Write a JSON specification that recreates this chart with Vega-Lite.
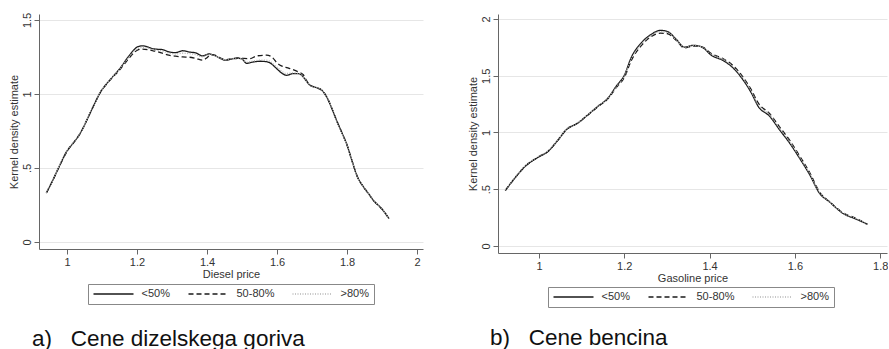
{
  "$schema": "https://vega.github.io/schema/vega-lite/v6.json",
  "padding": {"left": 8, "top": 12, "right": 0, "bottom": 0},
  "bounds": "flush",
  "spacing": 75,
  "datasets": {
    "diesel": [
      {"g": "<50%", "x": 0.941, "y": 0.331}, {"g": "<50%", "x": 0.96, "y": 0.42}, {"g": "<50%", "x": 0.977, "y": 0.507}, {"g": "<50%", "x": 1.0, "y": 0.615}, {"g": "<50%", "x": 1.02, "y": 0.675}, {"g": "<50%", "x": 1.034, "y": 0.72}, {"g": "<50%", "x": 1.048, "y": 0.78}, {"g": "<50%", "x": 1.063, "y": 0.856}, {"g": "<50%", "x": 1.08, "y": 0.94}, {"g": "<50%", "x": 1.096, "y": 1.014}, {"g": "<50%", "x": 1.112, "y": 1.065}, {"g": "<50%", "x": 1.13, "y": 1.115}, {"g": "<50%", "x": 1.145, "y": 1.155}, {"g": "<50%", "x": 1.158, "y": 1.194}, {"g": "<50%", "x": 1.17, "y": 1.235}, {"g": "<50%", "x": 1.182, "y": 1.272}, {"g": "<50%", "x": 1.192, "y": 1.3}, {"g": "<50%", "x": 1.201, "y": 1.318}, {"g": "<50%", "x": 1.215, "y": 1.325}, {"g": "<50%", "x": 1.23, "y": 1.318}, {"g": "<50%", "x": 1.244, "y": 1.306}, {"g": "<50%", "x": 1.258, "y": 1.302}, {"g": "<50%", "x": 1.272, "y": 1.3}, {"g": "<50%", "x": 1.291, "y": 1.284}, {"g": "<50%", "x": 1.31, "y": 1.279}, {"g": "<50%", "x": 1.33, "y": 1.292}, {"g": "<50%", "x": 1.35, "y": 1.283}, {"g": "<50%", "x": 1.368, "y": 1.277}, {"g": "<50%", "x": 1.387, "y": 1.257}, {"g": "<50%", "x": 1.406, "y": 1.27}, {"g": "<50%", "x": 1.42, "y": 1.262}, {"g": "<50%", "x": 1.434, "y": 1.245}, {"g": "<50%", "x": 1.453, "y": 1.228}, {"g": "<50%", "x": 1.475, "y": 1.238}, {"g": "<50%", "x": 1.491, "y": 1.24}, {"g": "<50%", "x": 1.5, "y": 1.236}, {"g": "<50%", "x": 1.513, "y": 1.207}, {"g": "<50%", "x": 1.53, "y": 1.215}, {"g": "<50%", "x": 1.551, "y": 1.221}, {"g": "<50%", "x": 1.57, "y": 1.218}, {"g": "<50%", "x": 1.58, "y": 1.21}, {"g": "<50%", "x": 1.595, "y": 1.18}, {"g": "<50%", "x": 1.604, "y": 1.16}, {"g": "<50%", "x": 1.615, "y": 1.138}, {"g": "<50%", "x": 1.628, "y": 1.126}, {"g": "<50%", "x": 1.645, "y": 1.138}, {"g": "<50%", "x": 1.66, "y": 1.138}, {"g": "<50%", "x": 1.67, "y": 1.127}, {"g": "<50%", "x": 1.683, "y": 1.09}, {"g": "<50%", "x": 1.694, "y": 1.059}, {"g": "<50%", "x": 1.71, "y": 1.045}, {"g": "<50%", "x": 1.728, "y": 1.025}, {"g": "<50%", "x": 1.742, "y": 0.98}, {"g": "<50%", "x": 1.757, "y": 0.9}, {"g": "<50%", "x": 1.77, "y": 0.822}, {"g": "<50%", "x": 1.785, "y": 0.74}, {"g": "<50%", "x": 1.8, "y": 0.655}, {"g": "<50%", "x": 1.814, "y": 0.55}, {"g": "<50%", "x": 1.828, "y": 0.45}, {"g": "<50%", "x": 1.847, "y": 0.372}, {"g": "<50%", "x": 1.862, "y": 0.325}, {"g": "<50%", "x": 1.875, "y": 0.282}, {"g": "<50%", "x": 1.899, "y": 0.225}, {"g": "<50%", "x": 1.92, "y": 0.158},

      {"g": "50-80%", "x": 0.941, "y": 0.331}, {"g": "50-80%", "x": 0.96, "y": 0.42}, {"g": "50-80%", "x": 0.977, "y": 0.505}, {"g": "50-80%", "x": 1.0, "y": 0.612}, {"g": "50-80%", "x": 1.02, "y": 0.675}, {"g": "50-80%", "x": 1.034, "y": 0.72}, {"g": "50-80%", "x": 1.048, "y": 0.78}, {"g": "50-80%", "x": 1.063, "y": 0.856}, {"g": "50-80%", "x": 1.08, "y": 0.94}, {"g": "50-80%", "x": 1.096, "y": 1.014}, {"g": "50-80%", "x": 1.112, "y": 1.065}, {"g": "50-80%", "x": 1.13, "y": 1.112}, {"g": "50-80%", "x": 1.145, "y": 1.148}, {"g": "50-80%", "x": 1.158, "y": 1.185}, {"g": "50-80%", "x": 1.17, "y": 1.22}, {"g": "50-80%", "x": 1.182, "y": 1.255}, {"g": "50-80%", "x": 1.192, "y": 1.28}, {"g": "50-80%", "x": 1.201, "y": 1.295}, {"g": "50-80%", "x": 1.215, "y": 1.303}, {"g": "50-80%", "x": 1.23, "y": 1.3}, {"g": "50-80%", "x": 1.244, "y": 1.293}, {"g": "50-80%", "x": 1.258, "y": 1.285}, {"g": "50-80%", "x": 1.272, "y": 1.275}, {"g": "50-80%", "x": 1.291, "y": 1.262}, {"g": "50-80%", "x": 1.31, "y": 1.255}, {"g": "50-80%", "x": 1.33, "y": 1.25}, {"g": "50-80%", "x": 1.35, "y": 1.248}, {"g": "50-80%", "x": 1.368, "y": 1.24}, {"g": "50-80%", "x": 1.387, "y": 1.228}, {"g": "50-80%", "x": 1.4, "y": 1.245}, {"g": "50-80%", "x": 1.41, "y": 1.265}, {"g": "50-80%", "x": 1.42, "y": 1.264}, {"g": "50-80%", "x": 1.434, "y": 1.248}, {"g": "50-80%", "x": 1.453, "y": 1.232}, {"g": "50-80%", "x": 1.475, "y": 1.24}, {"g": "50-80%", "x": 1.491, "y": 1.245}, {"g": "50-80%", "x": 1.505, "y": 1.24}, {"g": "50-80%", "x": 1.523, "y": 1.239}, {"g": "50-80%", "x": 1.542, "y": 1.257}, {"g": "50-80%", "x": 1.57, "y": 1.262}, {"g": "50-80%", "x": 1.585, "y": 1.25}, {"g": "50-80%", "x": 1.6, "y": 1.21}, {"g": "50-80%", "x": 1.609, "y": 1.194}, {"g": "50-80%", "x": 1.625, "y": 1.18}, {"g": "50-80%", "x": 1.637, "y": 1.171}, {"g": "50-80%", "x": 1.661, "y": 1.149}, {"g": "50-80%", "x": 1.675, "y": 1.13}, {"g": "50-80%", "x": 1.683, "y": 1.095}, {"g": "50-80%", "x": 1.694, "y": 1.06}, {"g": "50-80%", "x": 1.71, "y": 1.045}, {"g": "50-80%", "x": 1.728, "y": 1.025}, {"g": "50-80%", "x": 1.742, "y": 0.98}, {"g": "50-80%", "x": 1.757, "y": 0.9}, {"g": "50-80%", "x": 1.77, "y": 0.822}, {"g": "50-80%", "x": 1.785, "y": 0.74}, {"g": "50-80%", "x": 1.8, "y": 0.655}, {"g": "50-80%", "x": 1.814, "y": 0.55}, {"g": "50-80%", "x": 1.828, "y": 0.45}, {"g": "50-80%", "x": 1.847, "y": 0.372}, {"g": "50-80%", "x": 1.862, "y": 0.325}, {"g": "50-80%", "x": 1.875, "y": 0.282}, {"g": "50-80%", "x": 1.899, "y": 0.225}, {"g": "50-80%", "x": 1.92, "y": 0.158},

      {"g": ">80%", "x": 0.941, "y": 0.333}, {"g": ">80%", "x": 0.96, "y": 0.423}, {"g": ">80%", "x": 0.977, "y": 0.51}, {"g": ">80%", "x": 1.0, "y": 0.618}, {"g": ">80%", "x": 1.02, "y": 0.678}, {"g": ">80%", "x": 1.034, "y": 0.722}, {"g": ">80%", "x": 1.048, "y": 0.782}, {"g": ">80%", "x": 1.063, "y": 0.858}, {"g": ">80%", "x": 1.08, "y": 0.942}, {"g": ">80%", "x": 1.096, "y": 1.016}, {"g": ">80%", "x": 1.112, "y": 1.067}, {"g": ">80%", "x": 1.13, "y": 1.116}, {"g": ">80%", "x": 1.145, "y": 1.152}, {"g": ">80%", "x": 1.158, "y": 1.19}, {"g": ">80%", "x": 1.17, "y": 1.228}, {"g": ">80%", "x": 1.182, "y": 1.264}, {"g": ">80%", "x": 1.192, "y": 1.29}, {"g": ">80%", "x": 1.201, "y": 1.306}, {"g": ">80%", "x": 1.215, "y": 1.313}, {"g": ">80%", "x": 1.23, "y": 1.31}, {"g": ">80%", "x": 1.244, "y": 1.3}, {"g": ">80%", "x": 1.258, "y": 1.294}, {"g": ">80%", "x": 1.272, "y": 1.29}, {"g": ">80%", "x": 1.291, "y": 1.276}, {"g": ">80%", "x": 1.31, "y": 1.27}, {"g": ">80%", "x": 1.33, "y": 1.275}, {"g": ">80%", "x": 1.35, "y": 1.272}, {"g": ">80%", "x": 1.368, "y": 1.265}, {"g": ">80%", "x": 1.387, "y": 1.25}, {"g": ">80%", "x": 1.406, "y": 1.266}, {"g": ">80%", "x": 1.42, "y": 1.262}, {"g": ">80%", "x": 1.434, "y": 1.246}, {"g": ">80%", "x": 1.453, "y": 1.232}, {"g": ">80%", "x": 1.475, "y": 1.24}, {"g": ">80%", "x": 1.491, "y": 1.242}, {"g": ">80%", "x": 1.5, "y": 1.238}, {"g": ">80%", "x": 1.513, "y": 1.215}, {"g": ">80%", "x": 1.53, "y": 1.222}, {"g": ">80%", "x": 1.551, "y": 1.228}, {"g": ">80%", "x": 1.57, "y": 1.228}, {"g": ">80%", "x": 1.58, "y": 1.22}, {"g": ">80%", "x": 1.595, "y": 1.19}, {"g": ">80%", "x": 1.604, "y": 1.172}, {"g": ">80%", "x": 1.615, "y": 1.15}, {"g": ">80%", "x": 1.628, "y": 1.138}, {"g": ">80%", "x": 1.645, "y": 1.142}, {"g": ">80%", "x": 1.66, "y": 1.14}, {"g": ">80%", "x": 1.67, "y": 1.128}, {"g": ">80%", "x": 1.683, "y": 1.09}, {"g": ">80%", "x": 1.694, "y": 1.06}, {"g": ">80%", "x": 1.71, "y": 1.045}, {"g": ">80%", "x": 1.728, "y": 1.025}, {"g": ">80%", "x": 1.742, "y": 0.98}, {"g": ">80%", "x": 1.757, "y": 0.9}, {"g": ">80%", "x": 1.77, "y": 0.822}, {"g": ">80%", "x": 1.785, "y": 0.74}, {"g": ">80%", "x": 1.8, "y": 0.655}, {"g": ">80%", "x": 1.814, "y": 0.55}, {"g": ">80%", "x": 1.828, "y": 0.45}, {"g": ">80%", "x": 1.847, "y": 0.372}, {"g": ">80%", "x": 1.862, "y": 0.325}, {"g": ">80%", "x": 1.875, "y": 0.282}, {"g": ">80%", "x": 1.899, "y": 0.225}, {"g": ">80%", "x": 1.92, "y": 0.158}
    ],
    "gasoline": [
      {"g": "<50%", "x": 0.921, "y": 0.487}, {"g": "<50%", "x": 0.943, "y": 0.596}, {"g": "<50%", "x": 0.967, "y": 0.699}, {"g": "<50%", "x": 0.998, "y": 0.782}, {"g": "<50%", "x": 1.021, "y": 0.832}, {"g": "<50%", "x": 1.045, "y": 0.935}, {"g": "<50%", "x": 1.064, "y": 1.024}, {"g": "<50%", "x": 1.091, "y": 1.083}, {"g": "<50%", "x": 1.115, "y": 1.157}, {"g": "<50%", "x": 1.138, "y": 1.23}, {"g": "<50%", "x": 1.162, "y": 1.304}, {"g": "<50%", "x": 1.181, "y": 1.407}, {"g": "<50%", "x": 1.201, "y": 1.51}, {"g": "<50%", "x": 1.216, "y": 1.658}, {"g": "<50%", "x": 1.24, "y": 1.79}, {"g": "<50%", "x": 1.263, "y": 1.864}, {"g": "<50%", "x": 1.285, "y": 1.9}, {"g": "<50%", "x": 1.302, "y": 1.888}, {"g": "<50%", "x": 1.322, "y": 1.82}, {"g": "<50%", "x": 1.341, "y": 1.752}, {"g": "<50%", "x": 1.361, "y": 1.767}, {"g": "<50%", "x": 1.372, "y": 1.765}, {"g": "<50%", "x": 1.385, "y": 1.746}, {"g": "<50%", "x": 1.404, "y": 1.681}, {"g": "<50%", "x": 1.432, "y": 1.634}, {"g": "<50%", "x": 1.455, "y": 1.569}, {"g": "<50%", "x": 1.478, "y": 1.466}, {"g": "<50%", "x": 1.498, "y": 1.348}, {"g": "<50%", "x": 1.514, "y": 1.23}, {"g": "<50%", "x": 1.541, "y": 1.142}, {"g": "<50%", "x": 1.564, "y": 1.024}, {"g": "<50%", "x": 1.588, "y": 0.905}, {"g": "<50%", "x": 1.611, "y": 0.773}, {"g": "<50%", "x": 1.635, "y": 0.626}, {"g": "<50%", "x": 1.658, "y": 0.463}, {"g": "<50%", "x": 1.681, "y": 0.389}, {"g": "<50%", "x": 1.713, "y": 0.286}, {"g": "<50%", "x": 1.744, "y": 0.236}, {"g": "<50%", "x": 1.77, "y": 0.192},

      {"g": "50-80%", "x": 0.921, "y": 0.49}, {"g": "50-80%", "x": 0.943, "y": 0.596}, {"g": "50-80%", "x": 0.967, "y": 0.699}, {"g": "50-80%", "x": 0.998, "y": 0.782}, {"g": "50-80%", "x": 1.021, "y": 0.832}, {"g": "50-80%", "x": 1.045, "y": 0.935}, {"g": "50-80%", "x": 1.064, "y": 1.024}, {"g": "50-80%", "x": 1.091, "y": 1.083}, {"g": "50-80%", "x": 1.115, "y": 1.155}, {"g": "50-80%", "x": 1.138, "y": 1.226}, {"g": "50-80%", "x": 1.162, "y": 1.298}, {"g": "50-80%", "x": 1.181, "y": 1.395}, {"g": "50-80%", "x": 1.201, "y": 1.49}, {"g": "50-80%", "x": 1.216, "y": 1.63}, {"g": "50-80%", "x": 1.24, "y": 1.765}, {"g": "50-80%", "x": 1.263, "y": 1.845}, {"g": "50-80%", "x": 1.285, "y": 1.875}, {"g": "50-80%", "x": 1.302, "y": 1.87}, {"g": "50-80%", "x": 1.322, "y": 1.81}, {"g": "50-80%", "x": 1.341, "y": 1.745}, {"g": "50-80%", "x": 1.361, "y": 1.762}, {"g": "50-80%", "x": 1.372, "y": 1.762}, {"g": "50-80%", "x": 1.385, "y": 1.75}, {"g": "50-80%", "x": 1.404, "y": 1.695}, {"g": "50-80%", "x": 1.432, "y": 1.65}, {"g": "50-80%", "x": 1.455, "y": 1.59}, {"g": "50-80%", "x": 1.478, "y": 1.49}, {"g": "50-80%", "x": 1.498, "y": 1.375}, {"g": "50-80%", "x": 1.514, "y": 1.26}, {"g": "50-80%", "x": 1.541, "y": 1.165}, {"g": "50-80%", "x": 1.564, "y": 1.05}, {"g": "50-80%", "x": 1.588, "y": 0.93}, {"g": "50-80%", "x": 1.611, "y": 0.795}, {"g": "50-80%", "x": 1.635, "y": 0.645}, {"g": "50-80%", "x": 1.658, "y": 0.475}, {"g": "50-80%", "x": 1.681, "y": 0.39}, {"g": "50-80%", "x": 1.713, "y": 0.292}, {"g": "50-80%", "x": 1.744, "y": 0.242}, {"g": "50-80%", "x": 1.77, "y": 0.19},

      {"g": ">80%", "x": 0.921, "y": 0.492}, {"g": ">80%", "x": 0.943, "y": 0.6}, {"g": ">80%", "x": 0.967, "y": 0.705}, {"g": ">80%", "x": 0.998, "y": 0.788}, {"g": ">80%", "x": 1.021, "y": 0.838}, {"g": ">80%", "x": 1.045, "y": 0.94}, {"g": ">80%", "x": 1.064, "y": 1.028}, {"g": ">80%", "x": 1.091, "y": 1.087}, {"g": ">80%", "x": 1.115, "y": 1.16}, {"g": ">80%", "x": 1.138, "y": 1.232}, {"g": ">80%", "x": 1.162, "y": 1.302}, {"g": ">80%", "x": 1.181, "y": 1.4}, {"g": ">80%", "x": 1.201, "y": 1.5}, {"g": ">80%", "x": 1.216, "y": 1.645}, {"g": ">80%", "x": 1.24, "y": 1.778}, {"g": ">80%", "x": 1.263, "y": 1.855}, {"g": ">80%", "x": 1.285, "y": 1.888}, {"g": ">80%", "x": 1.302, "y": 1.88}, {"g": ">80%", "x": 1.322, "y": 1.815}, {"g": ">80%", "x": 1.341, "y": 1.75}, {"g": ">80%", "x": 1.361, "y": 1.765}, {"g": ">80%", "x": 1.372, "y": 1.764}, {"g": ">80%", "x": 1.385, "y": 1.748}, {"g": ">80%", "x": 1.404, "y": 1.69}, {"g": ">80%", "x": 1.432, "y": 1.643}, {"g": ">80%", "x": 1.455, "y": 1.58}, {"g": ">80%", "x": 1.478, "y": 1.48}, {"g": ">80%", "x": 1.498, "y": 1.362}, {"g": ">80%", "x": 1.514, "y": 1.245}, {"g": ">80%", "x": 1.541, "y": 1.155}, {"g": ">80%", "x": 1.564, "y": 1.038}, {"g": ">80%", "x": 1.588, "y": 0.918}, {"g": ">80%", "x": 1.611, "y": 0.785}, {"g": ">80%", "x": 1.635, "y": 0.636}, {"g": ">80%", "x": 1.658, "y": 0.47}, {"g": ">80%", "x": 1.681, "y": 0.39}, {"g": ">80%", "x": 1.713, "y": 0.29}, {"g": ">80%", "x": 1.744, "y": 0.24}, {"g": ">80%", "x": 1.77, "y": 0.19}
    ]
  },
  "hconcat": [
    {
      "width": 384,
      "height": 235,
      "data": {"name": "diesel"},
      "title": {"text": "a)\u00a0\u00a0 Cene dizelskega goriva", "orient": "bottom", "anchor": "start", "frame": "group", "dx": -7, "offset": 23, "baseline": "top"},
      "mark": {"type": "line", "interpolate": "monotone", "strokeWidth": 1.3, "clip": true},
      "encoding": {
        "x": {"field": "x", "type": "quantitative", "title": "Diesel price",
              "scale": {"domain": [0.92, 2.017], "nice": false, "zero": false},
              "axis": {"values": [1, 1.2, 1.4, 1.6, 1.8, 2], "format": "~g"}},
        "y": {"field": "y", "type": "quantitative", "title": "Kernel density estimate",
              "scale": {"domain": [-0.047, 1.54], "nice": false, "zero": false},
              "axis": {"values": [0, 0.5, 1, 1.5], "labelExpr": "datum.value == 0.5 ? '.5' : format(datum.value, '~g')"}},
        "color": {"field": "g", "type": "nominal", "sort": ["<50%", "50-80%", ">80%"],
                  "scale": {"domain": ["<50%", "50-80%", ">80%"], "range": ["#1a1a1a", "#1a1a1a", "#b5b5b5"]},
                  "legend": {"legendX": 49, "legendY": 270}},
        "strokeDash": {"field": "g", "type": "nominal", "sort": ["<50%", "50-80%", ">80%"],
                  "scale": {"domain": ["<50%", "50-80%", ">80%"], "range": [[1, 0], [5, 3], [1, 1.5]]},
                  "legend": {"legendX": 49, "legendY": 270}}
      }
    },
    {
      "width": 389,
      "height": 239,
      "data": {"name": "gasoline"},
      "title": {"text": "b)\u00a0\u00a0 Cene bencina", "orient": "bottom", "anchor": "start", "frame": "group", "dx": -8, "offset": 19, "baseline": "top"},
      "mark": {"type": "line", "interpolate": "monotone", "strokeWidth": 1.3, "clip": true},
      "encoding": {
        "x": {"field": "x", "type": "quantitative", "title": "Gasoline price",
              "scale": {"domain": [0.904, 1.816], "nice": false, "zero": false},
              "axis": {"values": [1, 1.2, 1.4, 1.6, 1.8], "format": "~g"}},
        "y": {"field": "y", "type": "quantitative", "title": "Kernel density estimate",
              "scale": {"domain": [-0.062, 2.044], "nice": false, "zero": false},
              "axis": {"values": [0, 0.5, 1, 1.5, 2], "labelExpr": "datum.value == 0.5 ? '.5' : format(datum.value, '~g')"}},
        "color": {"field": "g", "type": "nominal", "sort": ["<50%", "50-80%", ">80%"],
                  "scale": {"domain": ["<50%", "50-80%", ">80%"], "range": ["#1a1a1a", "#1a1a1a", "#b5b5b5"]},
                  "legend": {"legendX": 50, "legendY": 273}},
        "strokeDash": {"field": "g", "type": "nominal", "sort": ["<50%", "50-80%", ">80%"],
                  "scale": {"domain": ["<50%", "50-80%", ">80%"], "range": [[1, 0], [5, 3], [1, 1.5]]},
                  "legend": {"legendX": 50, "legendY": 273}}
      }
    }
  ],
  "resolve": {"scale": {"color": "independent", "strokeDash": "independent", "x": "independent", "y": "independent"}, "legend": {"color": "independent", "strokeDash": "independent"}},
  "config": {
    "font": "Liberation Sans",
    "view": {"stroke": null},
    "title": {"fontSize": 22.5, "fontWeight": "normal", "color": "#111", "font": "Liberation Sans"},
    "axis": {"labelFontSize": 11, "titleFontSize": 11, "titleFontWeight": "normal", "labelColor": "#333", "titleColor": "#333", "domainColor": "#666", "tickColor": "#666", "tickSize": 5, "gridColor": "#e6e6e6", "labelPadding": 2, "titlePadding": 1, "labelFont": "Liberation Sans", "titleFont": "Liberation Sans"},
    "axisX": {"grid": false, "labelFlush": false},
    "axisY": {"grid": true, "labelAngle": -90, "labelAlign": "center", "labelBaseline": "bottom", "titlePadding": 2},
    "legend": {"orient": "none", "direction": "horizontal", "title": null, "strokeColor": "#888", "fillColor": "white", "padding": 4.5, "symbolType": "stroke", "symbolSize": 1600, "clipHeight": 11, "symbolStrokeWidth": 1.3, "labelFontSize": 11, "labelColor": "#333", "labelOffset": 7, "columnPadding": 17, "labelFont": "Liberation Sans"}
  }
}
